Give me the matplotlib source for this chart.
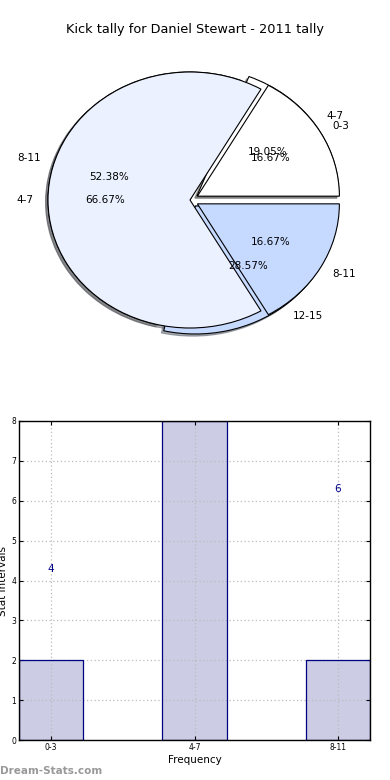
import matplotlib
matplotlib.use("Agg")
import matplotlib.pyplot as plt

# Pie data (two overlapping pies)
pie_a_labels = ["0-3", "4-7", "8-11"]
pie_a_values = [2, 8, 2]
pie_b_labels = ["4-7", "8-11", "12-15"]
pie_b_values = [4, 11, 6]
pie_colors = ["#FFFFFF", "#EBF1FF", "#C6D9FF"]

# Bar data
bar_labels = ["0-3", "4-7", "8-11"]
bar_values = [2, 8, 2]
note_labels = ["4", "6"]
note_x = [0, 2]
note_y = [4.3, 6.3]

title = "Kick tally for Daniel Stewart - 2011 tally"

fig = plt.figure(figsize=(3.9, 7.8), dpi=100)

# ---- Pie ----
ax1 = fig.add_axes([12.5 / 390, 1 - 360 / 780, 355 / 390, 320 / 780])
wprops = dict(edgecolor="black", linewidth=0.8)
shad = dict(ox=-0.012, oy=-0.012, shade=0.6)
ax1.pie(pie_b_values, labels=pie_b_labels, colors=pie_colors, explode=[0.06, 0, 0.06],
        autopct="%.2f%%", shadow=shad, startangle=0, wedgeprops=wprops,
        textprops=dict(fontsize=7.5))
ax1.pie(pie_a_values, labels=pie_a_labels, colors=pie_colors, explode=[0.06, 0, 0.06],
        autopct="%.2f%%", shadow=shad, startangle=0, wedgeprops=wprops,
        textprops=dict(fontsize=7.5))
ax1.set_aspect("auto")
ax1.set_xlim(-1.25, 1.25)
ax1.set_ylim(-1.25, 1.25)
fig.text(0.5, 1 - 30 / 780, title, ha="center", va="center", fontsize=9.3)

# ---- Bars ----
ax2 = fig.add_axes([19 / 390, 40 / 780, 351 / 390, 319 / 780])
x = list(range(len(bar_labels)))
ax2.bar(x, bar_values, width=0.45, color="#CCCCE5", edgecolor="none", zorder=1)
ax2.bar(x, bar_values, width=0.45, fill=False, edgecolor="#000080", linewidth=0.9, zorder=3)
ax2.set_xlim(-0.225, 2.225)
ax2.set_ylim(0, 8)
ax2.set_xticks(x)
ax2.set_xticklabels(bar_labels)
ax2.set_yticks(range(0, 9))
ax2.tick_params(direction="in", length=3, labelsize=5.5, top=True, right=True, pad=2)
ax2.grid(True, linestyle=(0, (1, 2)), color="#BBBBBB", linewidth=0.9, zorder=2)
for s in ax2.spines.values():
    s.set_linewidth(1.0)
    s.set_zorder(5)
for t, xx, yy in zip(note_labels, note_x, note_y):
    ax2.text(xx, yy, t, ha="center", va="center", color="#00008B", fontsize=7.5)
ax2.set_xlabel("Frequency", fontsize=7.5, labelpad=2)
ax2.set_ylabel("Stat Intervals", fontsize=7.5, labelpad=1)
ax2.yaxis.set_label_coords(-11 / 351, 0.5)

fig.text(0.0, 1 - 771 / 780, "Dream-Stats.com", ha="left", va="center", fontsize=7.5,
         color="#999999", fontweight="bold")

fig.savefig("out.png", dpi=100)
